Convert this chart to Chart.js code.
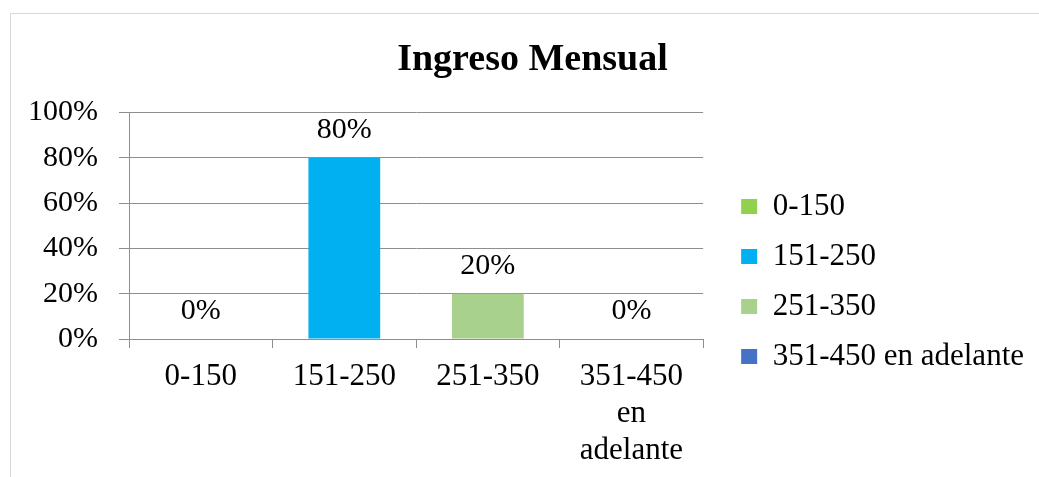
<!DOCTYPE html>
<html><head><meta charset="utf-8">
<script src="https://cdn.jsdelivr.net/npm/chart.js@4.4.0/dist/chart.umd.min.js"></script>
<style>
html,body{margin:0;padding:0;background:#fff;overflow:hidden;width:1039px;height:477px;}
#frame{position:absolute;left:10px;top:13px;width:1200px;height:800px;border:1px solid #d9d9d9;box-sizing:border-box;}
#wrap{position:absolute;left:0;top:0;width:1039px;height:477px;}
</style></head><body>
<div id="frame"></div>
<div id="wrap"><canvas id="c" width="1039" height="477"></canvas></div>
<script>
const chartTitle = 'Ingreso Mensual';
const categories = ['0-150', '151-250', '251-350', '351-450 en adelante'];
const axisLabels = ['0-150', '151-250', '251-350', ['351-450', 'en', 'adelante']];
const values = [0, 80, 20, 0];
const colors = ['#92D050', '#00B0F0', '#A9D18E', '#4472C4'];
const yTicks = [0, 20, 40, 60, 80, 100];

const FONT = "'Liberation Serif','Times New Roman',serif";
const gridColor = '#8e8e8e';

const dataLabels = {
  id: 'dataLabels',
  afterDatasetsDraw(chart) {
    const ctx = chart.ctx;
    const meta = chart.getDatasetMeta(0);
    ctx.save();
    ctx.font = '30px ' + FONT;
    ctx.fillStyle = '#000';
    ctx.textAlign = 'center';
    ctx.textBaseline = 'alphabetic';
    meta.data.forEach((bar, i) => {
      ctx.fillText(values[i] + '%', bar.x, bar.y - 20);
    });
    ctx.restore();
  }
};
const shiftTitle = {
  id: 'shiftTitle',
  afterLayout(chart) {
    const t = chart.titleBlock;
    if (t) { t.left += 15.5; t.right += 15.5; }
  }
};

new Chart(document.getElementById('c'), {
  type: 'bar',
  data: {
    labels: axisLabels,
    datasets: [{
      data: values,
      backgroundColor: colors,
      borderWidth: 0,
      barPercentage: 0.5,
      categoryPercentage: 1
    }]
  },
  options: {
    responsive: false,
    animation: false,
    devicePixelRatio: 1,
    layout: { padding: { left: 0, right: 5, top: 0, bottom: 0 } },
    plugins: {
      tooltip: { enabled: false },
      title: {
        display: true,
        text: chartTitle,
        color: '#000',
        font: { family: FONT, size: 38, weight: 'bold', lineHeight: 1.2 },
        padding: { top: 37, bottom: 30 }
      },
      legend: {
        display: true,
        position: 'right',
        align: 'start',
        maxWidth: 400,
        title: { display: true, text: '', font: { size: 10 }, padding: { top: 80, bottom: 80 } },
        labels: {
          boxWidth: 16,
          boxHeight: 15,
          padding: 19,
          color: '#000',
          font: { family: FONT, size: 31 },
          generateLabels: () => categories.map((c, i) => ({
            text: c, fillStyle: colors[i], strokeStyle: colors[i], fontColor: '#000', lineWidth: 0, hidden: false, index: i
          }))
        }
      }
    },
    scales: {
      x: {
        offset: true,
        grid: { display: true, drawOnChartArea: false, drawTicks: true, tickLength: 9, offset: true, color: gridColor },
        border: { display: true, color: gridColor },
        ticks: { color: '#000', font: { family: FONT, size: 31, lineHeight: 1.18 }, padding: 11, maxRotation: 0, minRotation: 0, autoSkip: false },
        afterFit(s) { s.height = 138; }
      },
      y: {
        min: yTicks[0],
        max: yTicks[yTicks.length - 1],
        ticks: { stepSize: yTicks[1] - yTicks[0], callback: v => v + '%', color: '#000', font: { family: FONT, size: 30 }, padding: 21 },
        grid: { color: gridColor, tickLength: 10 },
        border: { color: gridColor },
        afterFit(s) { s.width = 129; }
      },
      gap: {
        type: 'linear',
        position: 'right',
        display: true,
        grid: { display: false },
        ticks: { display: false },
        border: { display: false },
        afterFit(s) { s.width = 19; }
      }
    }
  },
  plugins: [dataLabels, shiftTitle]
});
</script>
</body></html>
